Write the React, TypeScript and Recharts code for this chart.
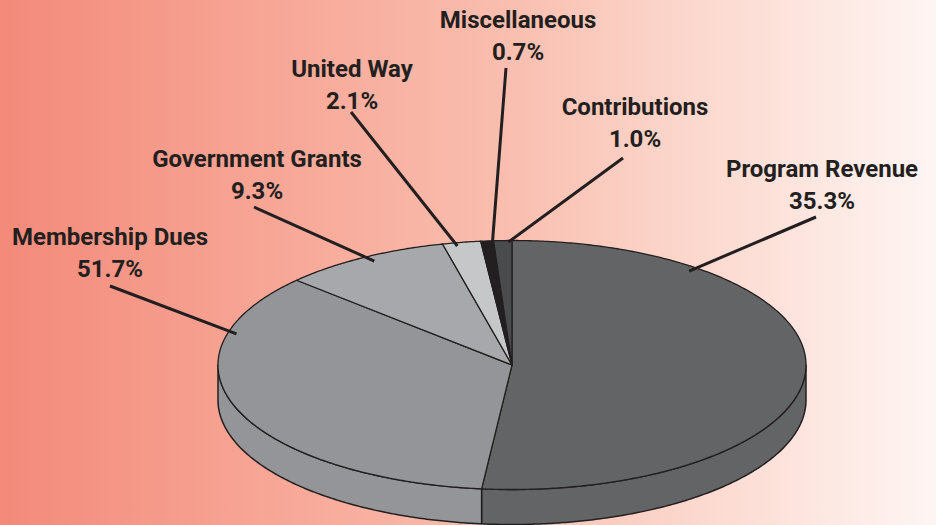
import React from 'react';
import { PieChart, Pie } from 'recharts';

// ---- data ----
// wedge order clockwise from 12 o'clock, as drawn in the reference
const sliceNames = ['Program Revenue', 'Membership Dues', 'Government Grants', 'United Way', 'Miscellaneous', 'Contributions'];
// wedge sizes
const sliceShares = [51.7, 35.3, 9.3, 2.1, 0.7, 1.0];
// percentages as printed on the labels of the reference
const printedPercents = ['35.3%', '51.7%', '9.3%', '2.1%', '0.7%', '1.0%'];
const sliceColors = ['#636466', '#939598', '#a6a8ab', '#c6c7c9', '#231f20', '#4a4b4d'];

// ---- layout / style ----
const W = 936;
const H = 525;
const PIE = { cx: 512, cy: 365, rx: 294, tilt: 124.5 / 294, depth: 35 };
const INK = '#231f20';
const FONT = "Roboto, 'Noto Sans', sans-serif";
// text anchor (tx, ty baseline), leader start (lx, ly), leader end in pie polar coords (a deg, r fraction)
const LABEL_LAYOUT = [
  { tx: 822, ty: 177, lx: 816, ly: 217, a: 51.4, r: 0.966 },
  { tx: 110, ty: 245, lx: 110, ly: 286, a: 165.1, r: 0.97 },
  { tx: 257, ty: 167, lx: 254, ly: 207, a: 119.3, r: 0.957 },
  { tx: 352, ty: 77, lx: 351, ly: 112, a: 101, r: 0.974 },
  { tx: 518, ty: 28, lx: 506, ly: 68, a: 93.8, r: 0.998 },
  { tx: 635, ty: 115, lx: 623, ly: 158, a: 90.7, r: 0.988 },
];

const pieData = sliceNames.map((name, i) => ({ name, value: sliceShares[i] }));

const RAD = Math.PI / 180;
const pt = (cx: number, cy: number, rx: number, ry: number, deg: number): [number, number] => [
  cx + rx * Math.cos(deg * RAD),
  cy - ry * Math.sin(deg * RAD),
];

const arcPoints = (cx: number, cy: number, rx: number, ry: number, from: number, to: number, dy = 0) => {
  const pts: string[] = [];
  const n = Math.max(2, Math.ceil(Math.abs(to - from) / 0.5));
  for (let i = 0; i <= n; i++) {
    const a = from + ((to - from) * i) / n;
    const [x, y] = pt(cx, cy, rx, ry, a);
    pts.push(`${x.toFixed(2)},${(y + dy).toFixed(2)}`);
  }
  return pts;
};

const render3D = (props: any) => {
  const { cx, cy, outerRadius, startAngle, endAngle, index } = props;
  const rx = outerRadius;
  const ry = outerRadius * PIE.tilt;
  const lo = Math.min(startAngle, endAngle);
  const hi = Math.max(startAngle, endAngle);
  const color = sliceColors[index];
  const walls: React.ReactNode[] = [];
  for (let k = -2; k <= 1; k++) {
    const wlo = Math.max(lo, -180 + 360 * k);
    const whi = Math.min(hi, 360 * k);
    if (whi - wlo > 0.01) {
      const top = arcPoints(cx, cy, rx, ry, wlo, whi, 0);
      const bottom = arcPoints(cx, cy, rx, ry, whi, wlo, PIE.depth);
      walls.push(
        <polygon
          key={`w${k}`}
          points={[...top, ...bottom].join(' ')}
          fill={color}
          stroke={INK}
          strokeWidth={1.5}
          strokeLinejoin="round"
        />
      );
    }
  }
  const topArc = arcPoints(cx, cy, rx, ry, hi, lo, 0);
  const d = `M${cx},${cy} L${topArc.join(' L')} Z`;
  return (
    <g>
      {walls}
      <path d={d} fill={color} stroke={INK} strokeWidth={1.3} strokeLinejoin="round" />
    </g>
  );
};

const renderLabel = (props: any) => {
  const { cx, cy, outerRadius, index } = props;
  const L = LABEL_LAYOUT[index];
  const rr = outerRadius * L.r;
  const [ex, ey] = pt(cx, cy, rr, rr * PIE.tilt, L.a);
  const textStyle = {
    fontFamily: FONT,
    fontWeight: 700,
    fontSize: 24,
  } as React.CSSProperties;
  return (
    <g>
      <line x1={L.lx} y1={L.ly} x2={ex} y2={ey} stroke={INK} strokeWidth={3} />
      <text x={L.tx} y={L.ty} textAnchor="middle" fill={INK} style={textStyle}>
        {sliceNames[index]}
      </text>
      <text x={L.tx} y={L.ty + 32} textAnchor="middle" fill={INK} style={textStyle}>
        {printedPercents[index]}
      </text>
    </g>
  );
};

export default function App() {
  return (
    <div
      style={{
        position: 'absolute',
        left: 0,
        top: 0,
        width: W,
        height: H,
        overflow: 'hidden',
        background:
          'linear-gradient(to right, #f38a7a 0%, #f8ab9b 34%, #f9bfb0 55%, #fcd9cf 75%, #fef5f3 100%)',
      }}
    >
      <PieChart width={W} height={H} margin={{ top: 0, right: 0, bottom: 0, left: 0 }}>
        <Pie
          data={pieData}
          dataKey="value"
          nameKey="name"
          cx={PIE.cx}
          cy={PIE.cy}
          innerRadius={0}
          outerRadius={PIE.rx}
          startAngle={90}
          endAngle={-270}
          fill="none"
          stroke="none"
          labelLine={false}
          label={render3D}
          isAnimationActive={false}
        />
        <Pie
          data={pieData}
          dataKey="value"
          nameKey="name"
          cx={PIE.cx}
          cy={PIE.cy}
          innerRadius={0}
          outerRadius={PIE.rx}
          startAngle={90}
          endAngle={-270}
          fill="none"
          stroke="none"
          labelLine={false}
          label={renderLabel}
          isAnimationActive={false}
        />
      </PieChart>
    </div>
  );
}
